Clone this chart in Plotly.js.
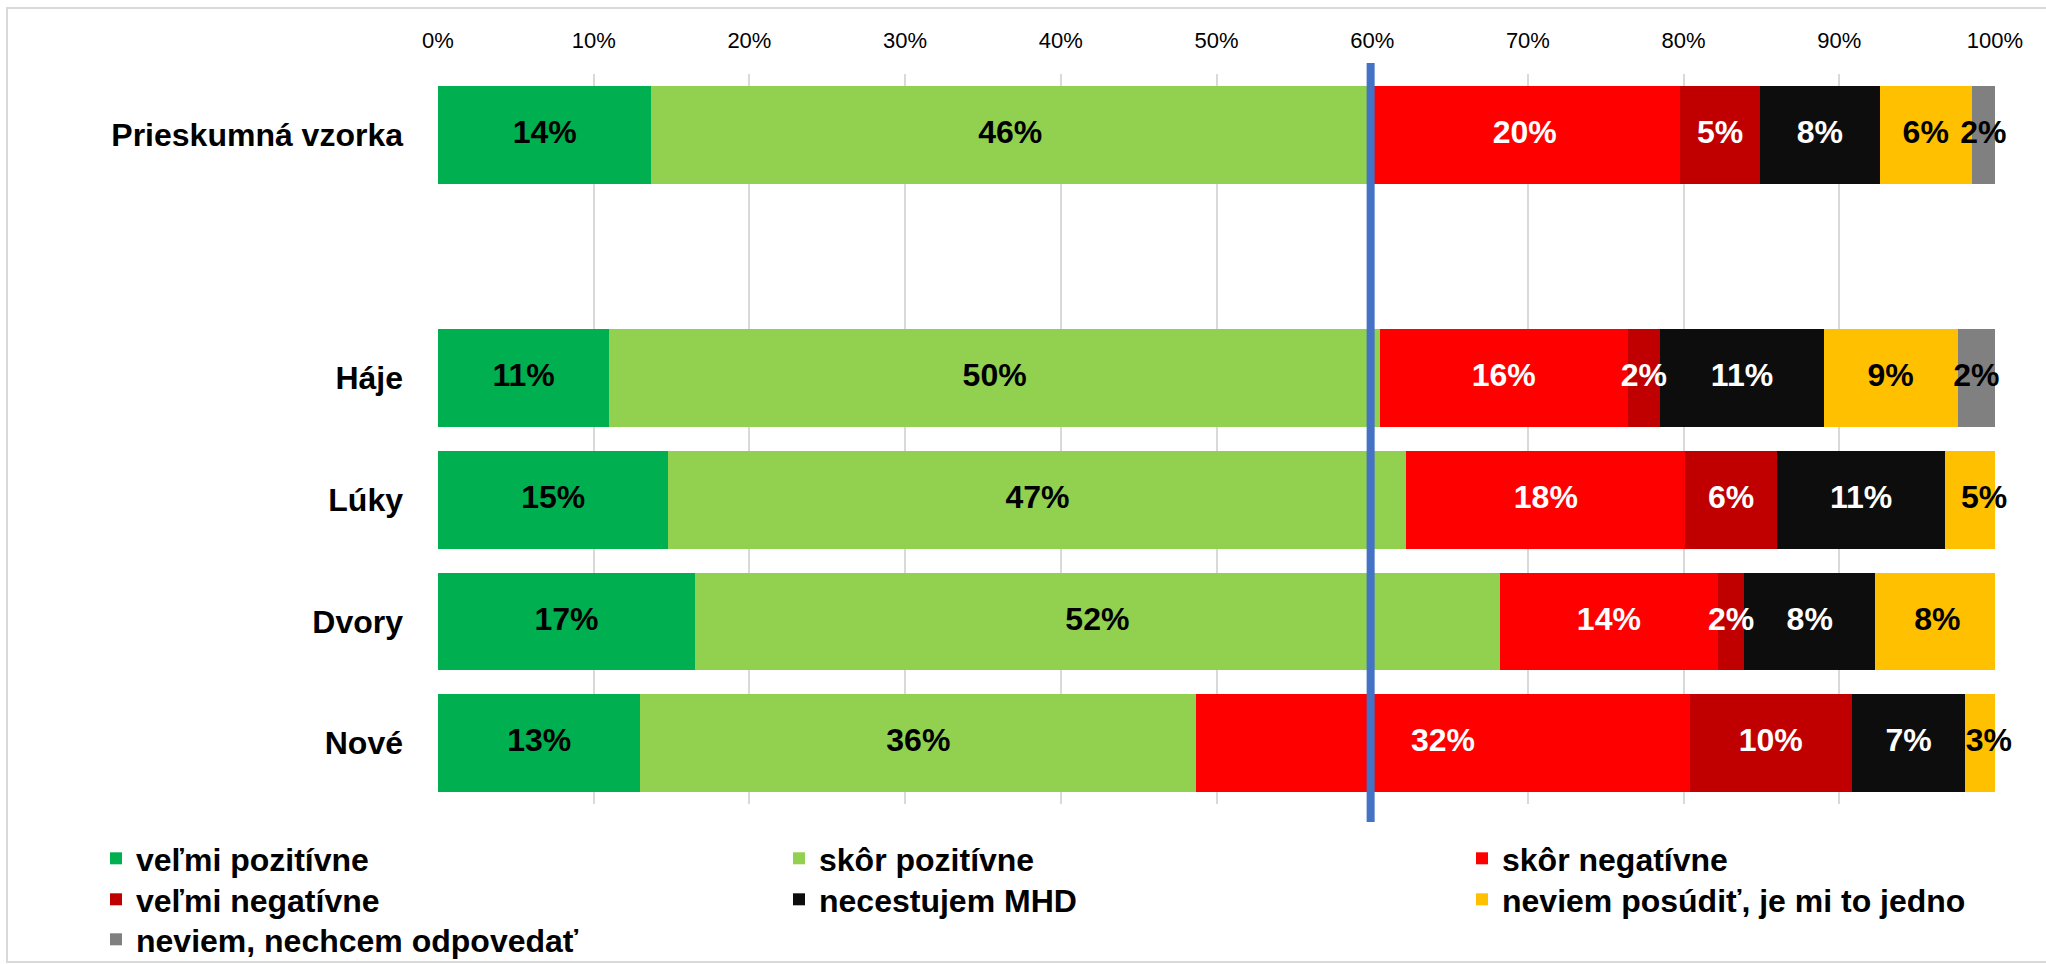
<!DOCTYPE html>
<html><head><meta charset="utf-8">
<script src="https://cdn.plot.ly/plotly-3.0.1.min.js"></script>
<style>html,body{margin:0;padding:0;background:#fff}#chart{width:2046px;height:964px}</style>
</head><body><div id="chart"></div>
<script>
// ---- data ----
const categories = ['Prieskumná vzorka', 'Háje', 'Lúky', 'Dvory', 'Nové'];
const axisOrder = ['Prieskumná vzorka', ' ', 'Háje', 'Lúky', 'Dvory', 'Nové'];
const seriesNames = ['veľmi pozitívne', 'skôr pozitívne', 'skôr negatívne', 'veľmi negatívne',
                     'necestujem MHD', 'neviem posúdiť, je mi to jedno', 'neviem, nechcem odpovedať'];
const velmiPozitivne = [13.7, 11.0, 14.8, 16.5, 13.0];
const skorPozitivne  = [46.1, 49.5, 47.4, 51.7, 35.7];
const skorNegativne  = [20.0, 15.9, 17.9, 14.0, 31.7];
const velmiNegativne = [5.1, 2.1, 5.9, 1.7, 10.4];
const necestujemMHD  = [7.7, 10.5, 10.8, 8.4, 7.3];
const neviemPosudit  = [5.9, 8.6, 5.0, 8.0, 3.0];
const neviemNechcem  = [1.5, 2.4, null, null, null];
const referenceLine = 59.9;
const xTickValues = [0, 10, 20, 30, 40, 50, 60, 70, 80, 90, 100];
const xTickLabels = ['0%', '10%', '20%', '30%', '40%', '50%', '60%', '70%', '80%', '90%', '100%'];

// ---- styling ----
const seriesValues = [velmiPozitivne, skorPozitivne, skorNegativne, velmiNegativne, necestujemMHD, neviemPosudit, neviemNechcem];
const colors = ['#00B050', '#92D050', '#FF0000', '#C00000', '#0D0D0D', '#FFC000', '#808080'];
const labelColors = ['#000000', '#000000', '#FFFFFF', '#FFFFFF', '#FFFFFF', '#000000', '#000000'];
const legendIds = ['legend', 'legend', 'legend', 'legend2', 'legend2', 'legend2', 'legend3'];
const FONT = 'Liberation Sans, Arial, sans-serif';
const W = 2046, H = 964;

const traces = [];
seriesValues.forEach((vals, i) => {
  traces.push({
    type: 'bar', orientation: 'h', name: seriesNames[i],
    x: vals, y: categories,
    marker: {color: colors[i], line: {width: 0}},
    legend: legendIds[i], hoverinfo: 'x+name'
  });
});
// labels at segment centres, computed from the stacked data
const base = categories.map(() => 0);
seriesValues.forEach((vals, i) => {
  const cx = [], cy = [], tx = [];
  vals.forEach((v, j) => {
    if (v != null) {
      cx.push(base[j] + v / 2); cy.push(categories[j]); tx.push(Math.round(v) + '%');
      base[j] += v;
    }
  });
  traces.push({
    type: 'scatter', mode: 'text', x: cx, y: cy, text: tx,
    textposition: 'middle center', cliponaxis: false, showlegend: false, hoverinfo: 'skip',
    textfont: {family: FONT, size: 32, weight: 'bold', color: labelColors[i]}
  });
});

const legendBase = {
  orientation: 'h', xanchor: 'left', yanchor: 'top', x: 96 / W,
  entrywidth: 638, entrywidthmode: 'pixels', bgcolor: 'rgba(0,0,0,0)', borderwidth: 0,
  font: {family: FONT, size: 32, weight: 'bold', color: '#000'}, traceorder: 'normal'
};

const layout = {
  width: W, height: H,
  margin: {l: 0, r: 0, t: 0, b: 0, autoexpand: false},
  paper_bgcolor: '#fff', plot_bgcolor: '#fff',
  barmode: 'stack', bargap: 0.195,
  font: {family: FONT},
  xaxis: {
    domain: [438 / W, 1995 / W], range: [0, 100], side: 'top',
    tickmode: 'array', tickvals: xTickValues, ticktext: xTickLabels, ticks: '',
    showgrid: true, gridcolor: '#D9D9D9', gridwidth: 2, zeroline: false, showline: false,
    tickfont: {family: FONT, size: 22, color: '#000'}, ticklabelstandoff: 21, fixedrange: true
  },
  yaxis: {
    domain: [1 - 804 / H, 1 - 74 / H], type: 'category',
    categoryorder: 'array', categoryarray: axisOrder, range: [5.5, -0.5],
    showgrid: false, zeroline: false, showline: false, ticks: '',
    tickfont: {family: FONT, size: 32, weight: 'bold', color: '#000'}, ticklabelstandoff: 34, fixedrange: true
  },
  legend: Object.assign({}, legendBase, {y: 1 - 831 / H}),
  legend2: Object.assign({}, legendBase, {y: 1 - 872 / H}),
  legend3: Object.assign({}, legendBase, {y: 1 - 912 / H}),
  shapes: [
    {type: 'rect', xref: 'paper', yref: 'paper', x0: 7 / W, x1: 1.02, y0: 1 - 962 / H, y1: 1 - 8 / H,
     line: {color: '#D9D9D9', width: 2}, fillcolor: 'rgba(0,0,0,0)', layer: 'below'},
    {type: 'line', xref: 'x', yref: 'paper', x0: referenceLine, x1: referenceLine,
     y0: 1 - 822 / H, y1: 1 - 63 / H, line: {color: '#4472C4', width: 8}, layer: 'above'}
  ],
  showlegend: true
};

Plotly.newPlot('chart', traces, layout, {displayModeBar: false, responsive: false});
</script>
</body></html>
